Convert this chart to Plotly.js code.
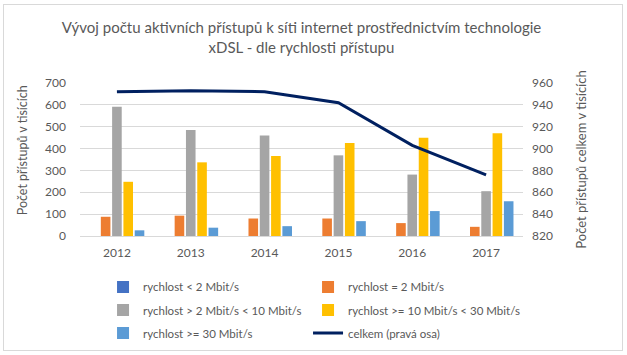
<!DOCTYPE html>
<html>
<head>
<meta charset="utf-8">
<script src="https://cdn.plot.ly/plotly-3.0.1.min.js"></script>
<style>
html,body{margin:0;padding:0;background:#fff;}
#wrap{position:relative;width:627px;height:355px;}
#chart{width:627px;height:355px;}
#frame{position:absolute;left:3px;top:4px;width:618px;height:345px;border:1px solid #d9d9d9;pointer-events:none;}
</style>
</head>
<body>
<div id="wrap"><div id="chart"></div><div id="frame"></div></div>
<script>
var years = ['2012', '2013', '2014', '2015', '2016', '2017'];
var seriesNames = ['rychlost < 2 Mbit/s', 'rychlost = 2 Mbit/s', 'rychlost > 2 Mbit/s < 10 Mbit/s', 'rychlost >= 10 Mbit/s < 30 Mbit/s', 'rychlost >= 30 Mbit/s', 'celkem (pravá osa)'];
var below2 = [0, 0, 0, 0, 0, 0];
var equal2 = [88, 93, 80, 80, 59, 42];
var from2to10 = [591, 485, 460, 369, 281, 205];
var from10to30 = [248, 337, 366, 425, 449, 470];
var above30 = [26, 38, 45, 68, 114, 159];
var total = [952, 953, 952, 942, 903, 876];
var leftTitle = 'Počet přístupů v tisících';
var rightTitle = 'Počet přístupů celkem v tisících';

var colors = ['#4472C4', '#ED7D31', '#A5A5A5', '#FFC000', '#5B9BD5', '#002060'];
var FONT = 'Lato, "Open Sans", sans-serif';
var GREY = '#595959';

var barData = [below2, equal2, from2to10, from10to30, above30];
var legendIds = ['legend', 'legend', 'legend2', 'legend2', 'legend3'];
var colWidths = [160, 185, 160, 185, 160];
var traces = barData.map(function (vals, i) {
  return {
    type: 'bar', x: years, y: vals, name: seriesNames[i],
    marker: {color: colors[i]}, legend: legendIds[i], legendwidth: colWidths[i],
    hoverinfo: 'x+y+name'
  };
});
traces.push({
  type: 'scatter', mode: 'lines', x: years, y: total, name: seriesNames[5],
  yaxis: 'y2', line: {color: colors[5], width: 3}, legend: 'legend3', legendwidth: 185
});

function leg(y) {
  return {
    orientation: 'h', x: 0.052, xanchor: 'left', y: y, yanchor: 'middle',
    bgcolor: 'rgba(0,0,0,0)',
    font: {family: FONT, size: 11.5, color: GREY}, traceorder: 'normal'
  };
}

var layout = {
  width: 627, height: 355,
  margin: {l: 80, r: 104, t: 83, b: 119, autoexpand: false},
  paper_bgcolor: '#fff', plot_bgcolor: '#fff',
  font: {family: FONT, color: GREY, size: 12},
  title: {
    text: 'Vývoj počtu aktivních přístupů k síti internet prostřednictvím technologie<br>xDSL - dle rychlosti přístupu',
    font: {family: FONT, size: 15, color: GREY},
    x: 0.5, xanchor: 'center', xref: 'paper', y: 0.907, yanchor: 'top', yref: 'container'
  },
  barmode: 'group', bargap: 0.235, bargroupgap: 0.15,
  xaxis: {
    type: 'category', showgrid: false, showline: false, zeroline: false,
    ticks: '', tickfont: {family: FONT, size: 12, color: GREY}, ticklabelstandoff: 8
  },
  yaxis: {
    range: [0, 700], dtick: 100, tick0: 0, showgrid: true, gridcolor: '#d9d9d9', gridwidth: 1,
    zeroline: true, zerolinecolor: '#d9d9d9', zerolinewidth: 1, showline: false, ticks: '',
    tickfont: {family: FONT, size: 12, color: GREY}, ticklabelstandoff: 13
  },
  yaxis2: {
    overlaying: 'y', side: 'right', range: [820, 960], dtick: 20, tick0: 820,
    showgrid: false, zeroline: false, showline: false, ticks: '',
    tickfont: {family: FONT, size: 12, color: GREY}, ticklabelstandoff: 8,
    title: {text: rightTitle, font: {family: FONT, size: 13, color: GREY}, standoff: 24}
  },
  annotations: [{
    text: leftTitle, textangle: -90, xref: 'paper', yref: 'paper',
    x: -0.131, y: 0.56, xanchor: 'center', yanchor: 'middle', showarrow: false,
    font: {family: FONT, size: 12.5, color: GREY}
  }],
  legend: leg(-0.333),
  legend2: leg(-0.484),
  legend3: leg(-0.634),
  showlegend: true
};

Plotly.newPlot('chart', traces, layout, {displayModeBar: false, staticPlot: true});
</script>
</body>
</html>
